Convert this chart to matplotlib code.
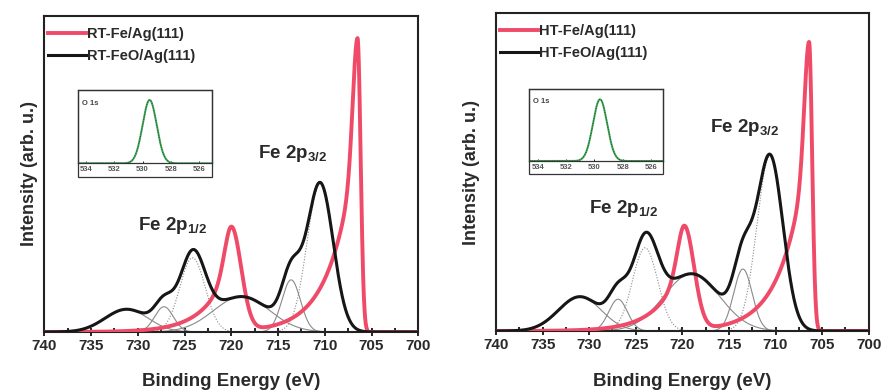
"""
Fe 2p XPS spectra of Fe/Ag(111) and FeO/Ag(111), room temperature (left)
and high temperature (right), each with an O 1s inset.
"""

import matplotlib.pyplot as plt
import numpy as np
from matplotlib.patches import Rectangle

plt.rcParams['font.family'] = ['Liberation Sans', 'DejaVu Sans']
plt.rcParams['font.weight'] = 'bold'
plt.rcParams['axes.labelweight'] = 'bold'
plt.rcParams['mathtext.fontset'] = 'custom'
plt.rcParams['mathtext.rm'] = 'Liberation Sans:bold'
plt.rcParams['mathtext.bf'] = 'Liberation Sans:bold'

# ---- data (heights as fraction of the axis height) ----
panel_tags = ['RT', 'HT']

# metallic Fe: asymmetric 2p3/2 and 2p1/2 lines
metal_centers = {'RT': [706.5, 720.0], 'HT': [706.4, 719.8]}
metal_heights = {'RT': [0.93, 0.33], 'HT': [0.91, 0.328]}
metal_low_width = [0.33, 1.05]    # eV, low binding-energy side
metal_core_width = [0.5, 0.75]    # eV, high binding-energy side core

# FeO fit components: satellite, 727, 2p1/2, satellite, 713.6, 2p3/2
oxide_centers = {'RT': [731.2, 727.2, 724.15, 718.9, 713.6, 710.5],
                 'HT': [731.0, 726.9, 724.0, 719.0, 713.5, 710.6]}
oxide_heights = {'RT': [0.072, 0.080, 0.235, 0.112, 0.165, 0.47],
                 'HT': [0.108, 0.100, 0.262, 0.180, 0.195, 0.55]}
oxide_widths = {'RT': [2.3, 1.0, 1.35, 3.0, 1.0, 1.4],
                'HT': [2.3, 1.0, 1.35, 3.0, 1.0, 1.4]}
oxide_dotted = [False, False, True, False, False, True]

# O 1s inset
o1s_center = {'RT': 529.5, 'HT': 529.6}
o1s_height = {'RT': 0.864, 'HT': 0.857}
o1s_width = 0.5
o1s_ticks = [534, 532, 530, 528, 526]

x_ticks = [740, 735, 730, 725, 720, 715, 710, 705, 700]

labels_2p12 = {'RT': (730.0, 0.323), 'HT': (730.0, 0.37)}
labels_2p32 = {'RT': (717.1, 0.55), 'HT': (717.0, 0.627)}

RED = '#ef4b68'
BLACK = '#161616'
TEXT = '#2a2a2a'
W, H = 882, 390


def gauss(e, c, h, s):
    return h * np.exp(-0.5 * ((e - c) / s) ** 2)


def metal_line(e, c, h, s_lo, s_core):
    dx = e - c
    lo = np.exp(-0.5 * (dx / s_lo) ** 2)
    hi = 0.4 * np.exp(-0.5 * (dx / s_core) ** 2) + \
        0.6 * np.exp(-(np.sqrt(dx ** 2 + 0.16) - 0.4) / 2.6)
    return h * np.where(dx < 0, lo, hi)


def px_rect(x0, y0, x1, y1):
    return [x0 / W, 1 - y1 / H, (x1 - x0) / W, (y1 - y0) / H]


fig = plt.figure(figsize=(W / 100, H / 100), dpi=100)

layout = {
    'RT': dict(ax=(44.3, 16, 418.3, 332), inset=(77.7, 90, 211.7, 163.3, 176.7),
               inset_x=(534.6, 525.1), ylab_x=30, xlab_y=381),
    'HT': dict(ax=(496, 13.3, 868.7, 331), inset=(528.7, 89, 663.3, 161, 174),
               inset_x=(534.64, 525.13), ylab_x=472, xlab_y=381),
}

energy = np.linspace(741, 699, 2101)

for tag in panel_tags:
    lay = layout[tag]
    x0, y0, x1, y1 = lay['ax']
    ax = fig.add_axes(px_rect(x0, y0, x1, y1))

    # fit components
    total = np.zeros_like(energy)
    for c, h, s, dotted in zip(oxide_centers[tag], oxide_heights[tag],
                               oxide_widths[tag], oxide_dotted):
        comp = gauss(energy, c, h, s)
        total += comp
        ax.plot(energy, comp, color='#8a8a8a', lw=0.8,
                ls=(0, (1, 1.5)) if dotted else '-', zorder=2)

    metal = np.zeros_like(energy)
    for c, h, s, sc in zip(metal_centers[tag], metal_heights[tag],
                           metal_low_width, metal_core_width):
        metal += metal_line(energy, c, h, s, sc)

    ax.plot(energy, metal, color=RED, lw=2.8, zorder=3,
            label=f'{tag}-Fe/Ag(111)')
    ax.plot(energy, total, color=BLACK, lw=2.2, zorder=4,
            label=f'{tag}-FeO/Ag(111)')

    ax.set_xlim(740, 700)
    ax.set_ylim(0, 1)
    ax.set_xticks(x_ticks)
    ax.set_xticks(np.arange(737.5, 700, -5), minor=True)
    ax.set_yticks([])
    ax.tick_params(axis='x', which='major', direction='inout', length=6,
                   width=1.2, labelsize=11, labelcolor=TEXT, pad=2)
    ax.tick_params(axis='x', which='minor', direction='in', length=3, width=1.2)
    for sp in ax.spines.values():
        sp.set_linewidth(1.5)
        sp.set_color('#222222')

    ax.set_xlabel('Binding Energy (eV)', fontsize=13.5, color=TEXT,
                  fontweight='bold')
    ax.xaxis.set_label_coords(0.5, -(lay['xlab_y'] - y1) / (y1 - y0))
    ax.xaxis.label.set_va('center')
    ax.set_ylabel('Intensity (arb. u.)', fontsize=13, color=TEXT,
                  fontweight='bold')
    ax.yaxis.set_label_coords(-(x0 - lay['ylab_x']) / (x1 - x0), 0.5)
    ax.yaxis.label.set_va('center')

    ax.legend(loc='upper left', bbox_to_anchor=(0.01, 0.965), frameon=False,
              fontsize=10.5, handlelength=2.6, handletextpad=0.1,
              borderpad=0, borderaxespad=0, labelspacing=0.55,
              labelcolor=TEXT, prop={'weight': 'bold', 'size': 10.5})

    lx, ly = labels_2p12[tag]
    ax.text(lx, ly, r'Fe 2p$_{\mathbf{1/2}}$', fontsize=13.5, color=TEXT,
            ha='left', va='baseline')
    lx, ly = labels_2p32[tag]
    ax.text(lx, ly, r'Fe 2p$_{\mathbf{3/2}}$', fontsize=13.5, color=TEXT,
            ha='left', va='baseline')

    # O 1s inset
    ix0, iy0, ix1, iy1, iy2 = lay['inset']
    ins = fig.add_axes(px_rect(ix0, iy0, ix1, iy1))
    o_e = np.linspace(536, 524, 600)
    o_y = gauss(o_e, o1s_center[tag], o1s_height[tag], o1s_width)
    ins.plot(o_e, o_y, color='#3aa655', lw=1.4)
    ins.plot(o_e, o_y, color='#333333', lw=0.6, ls=(0, (1, 2)))
    ins.set_xlim(*lay['inset_x'])
    ins.set_ylim(0, 1)
    ins.set_yticks([])
    ins.set_xticks(o1s_ticks)
    ins.tick_params(axis='x', direction='in', length=1.5, width=0.6,
                    labelsize=5.5, labelcolor='#555555', pad=2)
    for sp in ins.spines.values():
        sp.set_linewidth(0.9)
        sp.set_color('#333333')
    ins.text(0.03, 0.82, 'O 1s', transform=ins.transAxes, fontsize=5.5,
             color='#444444', ha='left', va='center')
    fig.patches.append(Rectangle((ix0 / W, 1 - iy2 / H), (ix1 - ix0) / W,
                                 (iy2 - iy0) / H, transform=fig.transFigure,
                                 fill=False, lw=0.9, edgecolor='#333333'))

fig.savefig('out.png', dpi=100)
